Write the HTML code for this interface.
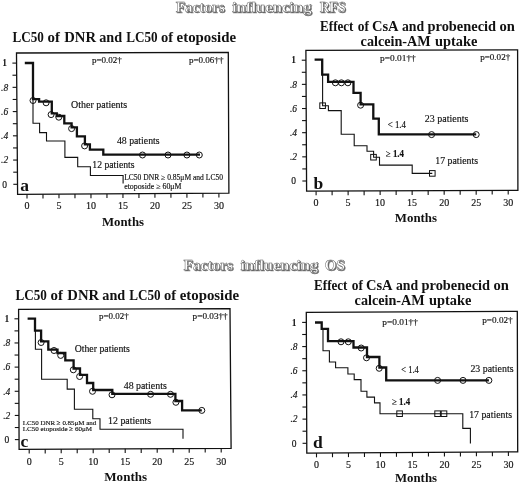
<!DOCTYPE html>
<html><head><meta charset="utf-8"><title>Factors influencing RFS and OS</title>
<style>html,body{margin:0;padding:0;background:#fff;}body{width:520px;height:483px;overflow:hidden;}svg{display:block;filter:blur(0.3px);font-family:"Liberation Serif",serif;}</style>
</head><body>
<svg width="520" height="483" viewBox="0 0 520 483">
<rect width="520" height="483" fill="#fff"/>
<text x="176.7" y="12.8" font-size="14" text-anchor="start" font-weight="bold" textLength="49.0" lengthAdjust="spacingAndGlyphs" fill="#666" stroke="#888" stroke-width="0.4">Factors</text>
<text x="175.7" y="11.8" font-size="14" text-anchor="start" font-weight="bold" textLength="49.0" lengthAdjust="spacingAndGlyphs" fill="#ffffff" stroke="#555" stroke-width="0.4">Factors</text>
<text x="233.0" y="12.8" font-size="14" text-anchor="start" font-weight="bold" textLength="79.5" lengthAdjust="spacingAndGlyphs" fill="#666" stroke="#888" stroke-width="0.4">influencing</text>
<text x="232.0" y="11.8" font-size="14" text-anchor="start" font-weight="bold" textLength="79.5" lengthAdjust="spacingAndGlyphs" fill="#ffffff" stroke="#555" stroke-width="0.4">influencing</text>
<text x="320.7" y="12.8" font-size="14" text-anchor="start" font-weight="bold" textLength="26.0" lengthAdjust="spacingAndGlyphs" fill="#666" stroke="#888" stroke-width="0.4">RFS</text>
<text x="319.7" y="11.8" font-size="14" text-anchor="start" font-weight="bold" textLength="26.0" lengthAdjust="spacingAndGlyphs" fill="#ffffff" stroke="#555" stroke-width="0.4">RFS</text>
<text x="184.5" y="271.3" font-size="14" text-anchor="start" font-weight="bold" textLength="49.5" lengthAdjust="spacingAndGlyphs" fill="#666" stroke="#888" stroke-width="0.4">Factors</text>
<text x="183.5" y="270.3" font-size="14" text-anchor="start" font-weight="bold" textLength="49.5" lengthAdjust="spacingAndGlyphs" fill="#ffffff" stroke="#555" stroke-width="0.4">Factors</text>
<text x="241.6" y="271.3" font-size="14" text-anchor="start" font-weight="bold" textLength="77.5" lengthAdjust="spacingAndGlyphs" fill="#666" stroke="#888" stroke-width="0.4">influencing</text>
<text x="240.6" y="270.3" font-size="14" text-anchor="start" font-weight="bold" textLength="77.5" lengthAdjust="spacingAndGlyphs" fill="#ffffff" stroke="#555" stroke-width="0.4">influencing</text>
<text x="325.7" y="271.3" font-size="14" text-anchor="start" font-weight="bold" textLength="20.2" lengthAdjust="spacingAndGlyphs" fill="#666" stroke="#888" stroke-width="0.4">OS</text>
<text x="324.7" y="270.3" font-size="14" text-anchor="start" font-weight="bold" textLength="20.2" lengthAdjust="spacingAndGlyphs" fill="#ffffff" stroke="#555" stroke-width="0.4">OS</text>
<text x="12.5" y="41.8" font-size="14" text-anchor="start" font-weight="bold" textLength="31.3" lengthAdjust="spacingAndGlyphs" fill="#111" >LC50</text>
<text x="47.5" y="41.8" font-size="14" text-anchor="start" font-weight="bold" textLength="12.4" lengthAdjust="spacingAndGlyphs" fill="#111" >of</text>
<text x="64.2" y="41.8" font-size="14" text-anchor="start" font-weight="bold" textLength="31.8" lengthAdjust="spacingAndGlyphs" fill="#111" >DNR</text>
<text x="99.2" y="41.8" font-size="14" text-anchor="start" font-weight="bold" textLength="22.9" lengthAdjust="spacingAndGlyphs" fill="#111" >and</text>
<text x="126.2" y="41.8" font-size="14" text-anchor="start" font-weight="bold" textLength="31.4" lengthAdjust="spacingAndGlyphs" fill="#111" >LC50</text>
<text x="160.9" y="41.8" font-size="14" text-anchor="start" font-weight="bold" textLength="12.1" lengthAdjust="spacingAndGlyphs" fill="#111" >of</text>
<text x="176.6" y="41.8" font-size="14" text-anchor="start" font-weight="bold" textLength="59.4" lengthAdjust="spacingAndGlyphs" fill="#111" >etoposide</text>
<text x="15.6" y="299.6" font-size="14" text-anchor="start" font-weight="bold" textLength="31.3" lengthAdjust="spacingAndGlyphs" fill="#111" >LC50</text>
<text x="50.6" y="299.6" font-size="14" text-anchor="start" font-weight="bold" textLength="12.4" lengthAdjust="spacingAndGlyphs" fill="#111" >of</text>
<text x="67.3" y="299.6" font-size="14" text-anchor="start" font-weight="bold" textLength="31.8" lengthAdjust="spacingAndGlyphs" fill="#111" >DNR</text>
<text x="102.3" y="299.6" font-size="14" text-anchor="start" font-weight="bold" textLength="22.9" lengthAdjust="spacingAndGlyphs" fill="#111" >and</text>
<text x="129.3" y="299.6" font-size="14" text-anchor="start" font-weight="bold" textLength="31.4" lengthAdjust="spacingAndGlyphs" fill="#111" >LC50</text>
<text x="164.0" y="299.6" font-size="14" text-anchor="start" font-weight="bold" textLength="12.1" lengthAdjust="spacingAndGlyphs" fill="#111" >of</text>
<text x="179.7" y="299.6" font-size="14" text-anchor="start" font-weight="bold" textLength="59.4" lengthAdjust="spacingAndGlyphs" fill="#111" >etoposide</text>
<text x="320.1" y="30.5" font-size="14" text-anchor="start" font-weight="bold" textLength="33.3" lengthAdjust="spacingAndGlyphs" fill="#111" >Effect</text>
<text x="357.7" y="30.5" font-size="14" text-anchor="start" font-weight="bold" textLength="11.2" lengthAdjust="spacingAndGlyphs" fill="#111" >of</text>
<text x="372.0" y="30.5" font-size="14" text-anchor="start" font-weight="bold" textLength="26.6" lengthAdjust="spacingAndGlyphs" fill="#111" >CsA</text>
<text x="401.9" y="30.5" font-size="14" text-anchor="start" font-weight="bold" textLength="22.2" lengthAdjust="spacingAndGlyphs" fill="#111" >and</text>
<text x="427.5" y="30.5" font-size="14" text-anchor="start" font-weight="bold" textLength="68.6" lengthAdjust="spacingAndGlyphs" fill="#111" >probenecid</text>
<text x="499.5" y="30.5" font-size="14" text-anchor="start" font-weight="bold" textLength="15.4" lengthAdjust="spacingAndGlyphs" fill="#111" >on</text>
<text x="360.6" y="45.6" font-size="14" text-anchor="start" font-weight="bold" textLength="70.1" lengthAdjust="spacingAndGlyphs" fill="#111" >calcein-AM</text>
<text x="435.0" y="45.6" font-size="14" text-anchor="start" font-weight="bold" textLength="42.4" lengthAdjust="spacingAndGlyphs" fill="#111" >uptake</text>
<text x="314.1" y="289.6" font-size="14" text-anchor="start" font-weight="bold" textLength="33.3" lengthAdjust="spacingAndGlyphs" fill="#111" >Effect</text>
<text x="351.7" y="289.6" font-size="14" text-anchor="start" font-weight="bold" textLength="11.2" lengthAdjust="spacingAndGlyphs" fill="#111" >of</text>
<text x="366.0" y="289.6" font-size="14" text-anchor="start" font-weight="bold" textLength="26.6" lengthAdjust="spacingAndGlyphs" fill="#111" >CsA</text>
<text x="395.9" y="289.6" font-size="14" text-anchor="start" font-weight="bold" textLength="22.2" lengthAdjust="spacingAndGlyphs" fill="#111" >and</text>
<text x="421.5" y="289.6" font-size="14" text-anchor="start" font-weight="bold" textLength="68.6" lengthAdjust="spacingAndGlyphs" fill="#111" >probenecid</text>
<text x="493.5" y="289.6" font-size="14" text-anchor="start" font-weight="bold" textLength="15.4" lengthAdjust="spacingAndGlyphs" fill="#111" >on</text>
<text x="354.6" y="304.9" font-size="14" text-anchor="start" font-weight="bold" textLength="70.1" lengthAdjust="spacingAndGlyphs" fill="#111" >calcein-AM</text>
<text x="429.0" y="304.9" font-size="14" text-anchor="start" font-weight="bold" textLength="42.4" lengthAdjust="spacingAndGlyphs" fill="#111" >uptake</text>
<path d="M16.5,53.0 L228.3,52.4 L228.9,193.2 L17.6,194.4 Z" fill="none" stroke="#111" stroke-width="1.3" stroke-linejoin="miter"/>
<line x1="13.32" y1="184.30" x2="17.52" y2="184.30" stroke="#111" stroke-width="1.1"/>
<line x1="13.23" y1="172.18" x2="17.43" y2="172.18" stroke="#111" stroke-width="1.1"/>
<line x1="13.13" y1="160.06" x2="17.33" y2="160.06" stroke="#111" stroke-width="1.1"/>
<line x1="13.04" y1="147.94" x2="17.24" y2="147.94" stroke="#111" stroke-width="1.1"/>
<line x1="12.94" y1="135.82" x2="17.14" y2="135.82" stroke="#111" stroke-width="1.1"/>
<line x1="12.85" y1="123.70" x2="17.05" y2="123.70" stroke="#111" stroke-width="1.1"/>
<line x1="12.76" y1="111.58" x2="16.96" y2="111.58" stroke="#111" stroke-width="1.1"/>
<line x1="12.66" y1="99.46" x2="16.86" y2="99.46" stroke="#111" stroke-width="1.1"/>
<line x1="12.57" y1="87.34" x2="16.77" y2="87.34" stroke="#111" stroke-width="1.1"/>
<line x1="12.47" y1="75.22" x2="16.67" y2="75.22" stroke="#111" stroke-width="1.1"/>
<line x1="12.38" y1="63.10" x2="16.58" y2="63.10" stroke="#111" stroke-width="1.1"/>
<text x="4.6" y="187.5" font-size="9.5" text-anchor="middle" fill="#111"  stroke="#111" stroke-width="0.15">0</text>
<text x="4.6" y="163.3" font-size="9.5" text-anchor="middle" fill="#111" font-style="italic" stroke="#111" stroke-width="0.15">.2</text>
<text x="4.6" y="139.0" font-size="9.5" text-anchor="middle" fill="#111" font-style="italic" stroke="#111" stroke-width="0.15">.4</text>
<text x="4.6" y="114.8" font-size="9.5" text-anchor="middle" fill="#111" font-style="italic" stroke="#111" stroke-width="0.15">.6</text>
<text x="4.6" y="90.5" font-size="9.5" text-anchor="middle" fill="#111" font-style="italic" stroke="#111" stroke-width="0.15">.8</text>
<text x="4.6" y="66.3" font-size="9.5" text-anchor="middle" font-weight="bold" fill="#111" >1</text>
<line x1="27.00" y1="194.35" x2="27.00" y2="198.55" stroke="#111" stroke-width="1.1"/>
<line x1="42.99" y1="194.26" x2="42.99" y2="198.46" stroke="#111" stroke-width="1.1"/>
<line x1="58.98" y1="194.16" x2="58.98" y2="198.36" stroke="#111" stroke-width="1.1"/>
<line x1="74.97" y1="194.07" x2="74.97" y2="198.27" stroke="#111" stroke-width="1.1"/>
<line x1="90.97" y1="193.98" x2="90.97" y2="198.18" stroke="#111" stroke-width="1.1"/>
<line x1="106.96" y1="193.89" x2="106.96" y2="198.09" stroke="#111" stroke-width="1.1"/>
<line x1="122.95" y1="193.80" x2="122.95" y2="198.00" stroke="#111" stroke-width="1.1"/>
<line x1="138.94" y1="193.71" x2="138.94" y2="197.91" stroke="#111" stroke-width="1.1"/>
<line x1="154.93" y1="193.62" x2="154.93" y2="197.82" stroke="#111" stroke-width="1.1"/>
<line x1="170.93" y1="193.53" x2="170.93" y2="197.73" stroke="#111" stroke-width="1.1"/>
<line x1="186.92" y1="193.44" x2="186.92" y2="197.64" stroke="#111" stroke-width="1.1"/>
<line x1="202.91" y1="193.35" x2="202.91" y2="197.55" stroke="#111" stroke-width="1.1"/>
<line x1="218.90" y1="193.26" x2="218.90" y2="197.46" stroke="#111" stroke-width="1.1"/>
<text x="27.0" y="208.5" font-size="10" text-anchor="middle" fill="#111"  stroke="#111" stroke-width="0.15">0</text>
<text x="59.0" y="208.5" font-size="10" text-anchor="middle" fill="#111"  stroke="#111" stroke-width="0.15">5</text>
<text x="91.0" y="208.5" font-size="10" text-anchor="middle" fill="#111"  stroke="#111" stroke-width="0.15">10</text>
<text x="123.0" y="208.5" font-size="10" text-anchor="middle" fill="#111"  stroke="#111" stroke-width="0.15">15</text>
<text x="154.9" y="208.5" font-size="10" text-anchor="middle" fill="#111"  stroke="#111" stroke-width="0.15">20</text>
<text x="186.9" y="208.5" font-size="10" text-anchor="middle" fill="#111"  stroke="#111" stroke-width="0.15">25</text>
<text x="218.9" y="208.5" font-size="10" text-anchor="middle" fill="#111"  stroke="#111" stroke-width="0.15">30</text>
<path d="M33,99.5 V123.3 H39.6 V132.6 H46.5 V141 H64.9 V157.4 H77.7 V166.7 H90.4 V175.5 H123.1 V183.6" fill="none" stroke="#111" stroke-width="1.1"/>
<path d="M24.8,63 H33 V99.2 H39.1 V101.6 H51.8 V113.3 H56.8 V116 H64.3 V123.3 H71.6 V127.3 H76.9 V136.3 H84.9 V144.4 H89.9 V149.7 H103.3 V154.6 H200" fill="none" stroke="#111" stroke-width="2.3"/>
<circle cx="33" cy="100.5" r="3" fill="none" stroke="#111" stroke-width="1"/>
<circle cx="46.1" cy="102.8" r="3" fill="none" stroke="#111" stroke-width="1"/>
<circle cx="51.1" cy="114.6" r="3" fill="none" stroke="#111" stroke-width="1"/>
<circle cx="58.8" cy="117.2" r="3" fill="none" stroke="#111" stroke-width="1"/>
<circle cx="71.6" cy="128.6" r="3" fill="none" stroke="#111" stroke-width="1"/>
<circle cx="84.6" cy="145.9" r="3" fill="none" stroke="#111" stroke-width="1"/>
<circle cx="142.5" cy="155" r="3" fill="none" stroke="#111" stroke-width="1"/>
<circle cx="168" cy="155" r="3" fill="none" stroke="#111" stroke-width="1"/>
<circle cx="186.9" cy="155" r="3" fill="none" stroke="#111" stroke-width="1"/>
<circle cx="199.3" cy="155" r="3" fill="none" stroke="#111" stroke-width="1"/>
<path d="M305.9,50.4 L517.6,49.8 L517.9,190.3 L306.6,191.2 Z" fill="none" stroke="#111" stroke-width="1.3" stroke-linejoin="miter"/>
<line x1="302.35" y1="181.00" x2="306.55" y2="181.00" stroke="#111" stroke-width="1.1"/>
<line x1="302.29" y1="168.92" x2="306.49" y2="168.92" stroke="#111" stroke-width="1.1"/>
<line x1="302.23" y1="156.84" x2="306.43" y2="156.84" stroke="#111" stroke-width="1.1"/>
<line x1="302.17" y1="144.76" x2="306.37" y2="144.76" stroke="#111" stroke-width="1.1"/>
<line x1="302.11" y1="132.68" x2="306.31" y2="132.68" stroke="#111" stroke-width="1.1"/>
<line x1="302.05" y1="120.60" x2="306.25" y2="120.60" stroke="#111" stroke-width="1.1"/>
<line x1="301.99" y1="108.52" x2="306.19" y2="108.52" stroke="#111" stroke-width="1.1"/>
<line x1="301.93" y1="96.44" x2="306.13" y2="96.44" stroke="#111" stroke-width="1.1"/>
<line x1="301.87" y1="84.36" x2="306.07" y2="84.36" stroke="#111" stroke-width="1.1"/>
<line x1="301.81" y1="72.28" x2="306.01" y2="72.28" stroke="#111" stroke-width="1.1"/>
<line x1="301.75" y1="60.20" x2="305.95" y2="60.20" stroke="#111" stroke-width="1.1"/>
<text x="293.5" y="184.2" font-size="9.5" text-anchor="middle" fill="#111"  stroke="#111" stroke-width="0.15">0</text>
<text x="293.5" y="160.0" font-size="9.5" text-anchor="middle" fill="#111" font-style="italic" stroke="#111" stroke-width="0.15">.2</text>
<text x="293.5" y="135.9" font-size="9.5" text-anchor="middle" fill="#111" font-style="italic" stroke="#111" stroke-width="0.15">.4</text>
<text x="293.5" y="111.7" font-size="9.5" text-anchor="middle" fill="#111" font-style="italic" stroke="#111" stroke-width="0.15">.6</text>
<text x="293.5" y="87.6" font-size="9.5" text-anchor="middle" fill="#111" font-style="italic" stroke="#111" stroke-width="0.15">.8</text>
<text x="293.5" y="63.4" font-size="9.5" text-anchor="middle" font-weight="bold" fill="#111" >1</text>
<line x1="316.10" y1="191.16" x2="316.10" y2="195.36" stroke="#111" stroke-width="1.1"/>
<line x1="332.11" y1="191.09" x2="332.11" y2="195.29" stroke="#111" stroke-width="1.1"/>
<line x1="348.12" y1="191.02" x2="348.12" y2="195.22" stroke="#111" stroke-width="1.1"/>
<line x1="364.12" y1="190.95" x2="364.12" y2="195.15" stroke="#111" stroke-width="1.1"/>
<line x1="380.13" y1="190.89" x2="380.13" y2="195.09" stroke="#111" stroke-width="1.1"/>
<line x1="396.14" y1="190.82" x2="396.14" y2="195.02" stroke="#111" stroke-width="1.1"/>
<line x1="412.15" y1="190.75" x2="412.15" y2="194.95" stroke="#111" stroke-width="1.1"/>
<line x1="428.16" y1="190.68" x2="428.16" y2="194.88" stroke="#111" stroke-width="1.1"/>
<line x1="444.17" y1="190.61" x2="444.17" y2="194.81" stroke="#111" stroke-width="1.1"/>
<line x1="460.17" y1="190.55" x2="460.17" y2="194.75" stroke="#111" stroke-width="1.1"/>
<line x1="476.18" y1="190.48" x2="476.18" y2="194.68" stroke="#111" stroke-width="1.1"/>
<line x1="492.19" y1="190.41" x2="492.19" y2="194.61" stroke="#111" stroke-width="1.1"/>
<line x1="508.20" y1="190.34" x2="508.20" y2="194.54" stroke="#111" stroke-width="1.1"/>
<text x="316.1" y="205.6" font-size="10" text-anchor="middle" fill="#111"  stroke="#111" stroke-width="0.15">0</text>
<text x="348.1" y="205.6" font-size="10" text-anchor="middle" fill="#111"  stroke="#111" stroke-width="0.15">5</text>
<text x="380.1" y="205.6" font-size="10" text-anchor="middle" fill="#111"  stroke="#111" stroke-width="0.15">10</text>
<text x="412.1" y="205.6" font-size="10" text-anchor="middle" fill="#111"  stroke="#111" stroke-width="0.15">15</text>
<text x="444.2" y="205.6" font-size="10" text-anchor="middle" fill="#111"  stroke="#111" stroke-width="0.15">20</text>
<text x="476.2" y="205.6" font-size="10" text-anchor="middle" fill="#111"  stroke="#111" stroke-width="0.15">25</text>
<text x="508.2" y="205.6" font-size="10" text-anchor="middle" fill="#111"  stroke="#111" stroke-width="0.15">30</text>
<path d="M322.6,74.7 V105.7 H328.4 V110.6 H341.2 V134.2 H354.2 V145.8 H367 V151.3 H373.6 V157.2 H379.5 V165.1 H412.2 V173.4 H432.3" fill="none" stroke="#111" stroke-width="1.1"/>
<path d="M314.6,59.6 H322.2 V74.7 H328.1 V81.9 H353.5 V92.9 H360.6 V104.4 H373.3 V118.6 H378.8 V134.4 H476.2" fill="none" stroke="#111" stroke-width="2.3"/>
<circle cx="335.4" cy="82.8" r="3" fill="none" stroke="#111" stroke-width="1"/>
<circle cx="341.4" cy="82.8" r="3" fill="none" stroke="#111" stroke-width="1"/>
<circle cx="347.9" cy="82.8" r="3" fill="none" stroke="#111" stroke-width="1"/>
<circle cx="360.6" cy="105.2" r="3" fill="none" stroke="#111" stroke-width="1"/>
<circle cx="431.6" cy="134.6" r="3" fill="none" stroke="#111" stroke-width="1"/>
<circle cx="476.2" cy="134.6" r="3" fill="none" stroke="#111" stroke-width="1"/>
<rect x="319.8" y="102.9" width="5.6" height="5.6" fill="none" stroke="#111" stroke-width="1"/>
<rect x="370.7" y="154.4" width="5.6" height="5.6" fill="none" stroke="#111" stroke-width="1"/>
<rect x="429.5" y="170.6" width="5.6" height="5.6" fill="none" stroke="#111" stroke-width="1"/>
<path d="M18.6,309.4 L230.0,308.7 L231.1,448.3 L19.1,449.3 Z" fill="none" stroke="#111" stroke-width="1.3" stroke-linejoin="miter"/>
<line x1="14.87" y1="439.60" x2="19.07" y2="439.60" stroke="#111" stroke-width="1.1"/>
<line x1="14.82" y1="427.52" x2="19.02" y2="427.52" stroke="#111" stroke-width="1.1"/>
<line x1="14.78" y1="415.44" x2="18.98" y2="415.44" stroke="#111" stroke-width="1.1"/>
<line x1="14.74" y1="403.36" x2="18.94" y2="403.36" stroke="#111" stroke-width="1.1"/>
<line x1="14.69" y1="391.28" x2="18.89" y2="391.28" stroke="#111" stroke-width="1.1"/>
<line x1="14.65" y1="379.20" x2="18.85" y2="379.20" stroke="#111" stroke-width="1.1"/>
<line x1="14.61" y1="367.12" x2="18.81" y2="367.12" stroke="#111" stroke-width="1.1"/>
<line x1="14.56" y1="355.04" x2="18.76" y2="355.04" stroke="#111" stroke-width="1.1"/>
<line x1="14.52" y1="342.96" x2="18.72" y2="342.96" stroke="#111" stroke-width="1.1"/>
<line x1="14.48" y1="330.88" x2="18.68" y2="330.88" stroke="#111" stroke-width="1.1"/>
<line x1="14.43" y1="318.80" x2="18.63" y2="318.80" stroke="#111" stroke-width="1.1"/>
<text x="6.8" y="442.8" font-size="9.5" text-anchor="middle" fill="#111"  stroke="#111" stroke-width="0.15">0</text>
<text x="6.8" y="418.6" font-size="9.5" text-anchor="middle" fill="#111" font-style="italic" stroke="#111" stroke-width="0.15">.2</text>
<text x="6.8" y="394.5" font-size="9.5" text-anchor="middle" fill="#111" font-style="italic" stroke="#111" stroke-width="0.15">.4</text>
<text x="6.8" y="370.3" font-size="9.5" text-anchor="middle" fill="#111" font-style="italic" stroke="#111" stroke-width="0.15">.6</text>
<text x="6.8" y="346.2" font-size="9.5" text-anchor="middle" fill="#111" font-style="italic" stroke="#111" stroke-width="0.15">.8</text>
<text x="6.8" y="322.0" font-size="9.5" text-anchor="middle" font-weight="bold" fill="#111" >1</text>
<line x1="29.20" y1="449.25" x2="29.20" y2="453.45" stroke="#111" stroke-width="1.1"/>
<line x1="45.20" y1="449.18" x2="45.20" y2="453.38" stroke="#111" stroke-width="1.1"/>
<line x1="61.20" y1="449.10" x2="61.20" y2="453.30" stroke="#111" stroke-width="1.1"/>
<line x1="77.20" y1="449.03" x2="77.20" y2="453.23" stroke="#111" stroke-width="1.1"/>
<line x1="93.20" y1="448.95" x2="93.20" y2="453.15" stroke="#111" stroke-width="1.1"/>
<line x1="109.20" y1="448.88" x2="109.20" y2="453.07" stroke="#111" stroke-width="1.1"/>
<line x1="125.20" y1="448.80" x2="125.20" y2="453.00" stroke="#111" stroke-width="1.1"/>
<line x1="141.20" y1="448.72" x2="141.20" y2="452.92" stroke="#111" stroke-width="1.1"/>
<line x1="157.20" y1="448.65" x2="157.20" y2="452.85" stroke="#111" stroke-width="1.1"/>
<line x1="173.20" y1="448.57" x2="173.20" y2="452.77" stroke="#111" stroke-width="1.1"/>
<line x1="189.20" y1="448.50" x2="189.20" y2="452.70" stroke="#111" stroke-width="1.1"/>
<line x1="205.20" y1="448.42" x2="205.20" y2="452.62" stroke="#111" stroke-width="1.1"/>
<line x1="221.20" y1="448.35" x2="221.20" y2="452.55" stroke="#111" stroke-width="1.1"/>
<text x="29.2" y="464.5" font-size="10" text-anchor="middle" fill="#111"  stroke="#111" stroke-width="0.15">0</text>
<text x="61.2" y="464.5" font-size="10" text-anchor="middle" fill="#111"  stroke="#111" stroke-width="0.15">5</text>
<text x="93.2" y="464.5" font-size="10" text-anchor="middle" fill="#111"  stroke="#111" stroke-width="0.15">10</text>
<text x="125.2" y="464.5" font-size="10" text-anchor="middle" fill="#111"  stroke="#111" stroke-width="0.15">15</text>
<text x="157.2" y="464.5" font-size="10" text-anchor="middle" fill="#111"  stroke="#111" stroke-width="0.15">20</text>
<text x="189.2" y="464.5" font-size="10" text-anchor="middle" fill="#111"  stroke="#111" stroke-width="0.15">25</text>
<text x="221.2" y="464.5" font-size="10" text-anchor="middle" fill="#111"  stroke="#111" stroke-width="0.15">30</text>
<path d="M35.4,330.6 V349.2 H41.6 V379.3 H67.2 V389.1 H74.4 V409.2 H92.8 V418.7 H100 V429.3 H183 V438.8" fill="none" stroke="#111" stroke-width="1.1"/>
<path d="M27.6,318.6 H35 V330.6 H41.1 V341.4 H48.3 V349.7 H57.5 V353 H65.3 V360.4 H73.6 V368.5 H80 V374.8 H87 V383 H93.2 V390 H112.3 V393.8 H175.4 V401 H182.1 V410.4 H201.8" fill="none" stroke="#111" stroke-width="2.3"/>
<circle cx="41.1" cy="342.5" r="3" fill="none" stroke="#111" stroke-width="1"/>
<circle cx="54" cy="350.5" r="3" fill="none" stroke="#111" stroke-width="1"/>
<circle cx="60.7" cy="355.4" r="3" fill="none" stroke="#111" stroke-width="1"/>
<circle cx="73.3" cy="369.8" r="3" fill="none" stroke="#111" stroke-width="1"/>
<circle cx="79.6" cy="376.5" r="3" fill="none" stroke="#111" stroke-width="1"/>
<circle cx="92.5" cy="391.3" r="3" fill="none" stroke="#111" stroke-width="1"/>
<circle cx="112" cy="394.8" r="3" fill="none" stroke="#111" stroke-width="1"/>
<circle cx="150.6" cy="394.3" r="3" fill="none" stroke="#111" stroke-width="1"/>
<circle cx="170.5" cy="394.3" r="3" fill="none" stroke="#111" stroke-width="1"/>
<circle cx="175.9" cy="402.3" r="3" fill="none" stroke="#111" stroke-width="1"/>
<circle cx="201.8" cy="410.4" r="3" fill="none" stroke="#111" stroke-width="1"/>
<path d="M306.3,312.4 L517.3,311.3 L517.7,451.8 L306.8,453.2 Z" fill="none" stroke="#111" stroke-width="1.3" stroke-linejoin="miter"/>
<line x1="302.56" y1="443.30" x2="306.76" y2="443.30" stroke="#111" stroke-width="1.1"/>
<line x1="302.52" y1="431.21" x2="306.72" y2="431.21" stroke="#111" stroke-width="1.1"/>
<line x1="302.48" y1="419.12" x2="306.68" y2="419.12" stroke="#111" stroke-width="1.1"/>
<line x1="302.44" y1="407.03" x2="306.64" y2="407.03" stroke="#111" stroke-width="1.1"/>
<line x1="302.39" y1="394.94" x2="306.59" y2="394.94" stroke="#111" stroke-width="1.1"/>
<line x1="302.35" y1="382.85" x2="306.55" y2="382.85" stroke="#111" stroke-width="1.1"/>
<line x1="302.31" y1="370.76" x2="306.51" y2="370.76" stroke="#111" stroke-width="1.1"/>
<line x1="302.26" y1="358.67" x2="306.46" y2="358.67" stroke="#111" stroke-width="1.1"/>
<line x1="302.22" y1="346.58" x2="306.42" y2="346.58" stroke="#111" stroke-width="1.1"/>
<line x1="302.18" y1="334.49" x2="306.38" y2="334.49" stroke="#111" stroke-width="1.1"/>
<line x1="302.14" y1="322.40" x2="306.34" y2="322.40" stroke="#111" stroke-width="1.1"/>
<text x="294.0" y="446.5" font-size="9.5" text-anchor="middle" fill="#111"  stroke="#111" stroke-width="0.15">0</text>
<text x="294.0" y="422.3" font-size="9.5" text-anchor="middle" fill="#111" font-style="italic" stroke="#111" stroke-width="0.15">.2</text>
<text x="294.0" y="398.1" font-size="9.5" text-anchor="middle" fill="#111" font-style="italic" stroke="#111" stroke-width="0.15">.4</text>
<text x="294.0" y="374.0" font-size="9.5" text-anchor="middle" fill="#111" font-style="italic" stroke="#111" stroke-width="0.15">.6</text>
<text x="294.0" y="349.8" font-size="9.5" text-anchor="middle" fill="#111" font-style="italic" stroke="#111" stroke-width="0.15">.8</text>
<text x="294.0" y="325.6" font-size="9.5" text-anchor="middle" font-weight="bold" fill="#111" >1</text>
<line x1="316.50" y1="453.14" x2="316.50" y2="457.34" stroke="#111" stroke-width="1.1"/>
<line x1="332.49" y1="453.03" x2="332.49" y2="457.23" stroke="#111" stroke-width="1.1"/>
<line x1="348.48" y1="452.92" x2="348.48" y2="457.12" stroke="#111" stroke-width="1.1"/>
<line x1="364.48" y1="452.82" x2="364.48" y2="457.02" stroke="#111" stroke-width="1.1"/>
<line x1="380.47" y1="452.71" x2="380.47" y2="456.91" stroke="#111" stroke-width="1.1"/>
<line x1="396.46" y1="452.60" x2="396.46" y2="456.80" stroke="#111" stroke-width="1.1"/>
<line x1="412.45" y1="452.50" x2="412.45" y2="456.70" stroke="#111" stroke-width="1.1"/>
<line x1="428.44" y1="452.39" x2="428.44" y2="456.59" stroke="#111" stroke-width="1.1"/>
<line x1="444.43" y1="452.29" x2="444.43" y2="456.49" stroke="#111" stroke-width="1.1"/>
<line x1="460.42" y1="452.18" x2="460.42" y2="456.38" stroke="#111" stroke-width="1.1"/>
<line x1="476.42" y1="452.07" x2="476.42" y2="456.27" stroke="#111" stroke-width="1.1"/>
<line x1="492.41" y1="451.97" x2="492.41" y2="456.17" stroke="#111" stroke-width="1.1"/>
<line x1="508.40" y1="451.86" x2="508.40" y2="456.06" stroke="#111" stroke-width="1.1"/>
<text x="316.5" y="467.9" font-size="10" text-anchor="middle" fill="#111"  stroke="#111" stroke-width="0.15">0</text>
<text x="348.5" y="467.9" font-size="10" text-anchor="middle" fill="#111"  stroke="#111" stroke-width="0.15">5</text>
<text x="380.5" y="467.9" font-size="10" text-anchor="middle" fill="#111"  stroke="#111" stroke-width="0.15">10</text>
<text x="412.4" y="467.9" font-size="10" text-anchor="middle" fill="#111"  stroke="#111" stroke-width="0.15">15</text>
<text x="444.4" y="467.9" font-size="10" text-anchor="middle" fill="#111"  stroke="#111" stroke-width="0.15">20</text>
<text x="476.4" y="467.9" font-size="10" text-anchor="middle" fill="#111"  stroke="#111" stroke-width="0.15">25</text>
<text x="508.4" y="467.9" font-size="10" text-anchor="middle" fill="#111"  stroke="#111" stroke-width="0.15">30</text>
<path d="M323,328.8 V350.8 H329.4 V362 H335.6 V367.7 H347.9 V374 H354.2 V379.6 H361 V391.3 H366.9 V397.1 H374.5 V402.9 H380 V413.7 H462.8 V428.4 H470.4 V443.4" fill="none" stroke="#111" stroke-width="1.1"/>
<path d="M315,322.5 H321.7 V328.8 H328 V341.2 H353.5 V347.5 H367 V357 H379.4 V367.5 H386.2 V380.3 H488.9" fill="none" stroke="#111" stroke-width="2.3"/>
<circle cx="341" cy="341.8" r="3" fill="none" stroke="#111" stroke-width="1"/>
<circle cx="348.3" cy="341.8" r="3" fill="none" stroke="#111" stroke-width="1"/>
<circle cx="361.2" cy="348" r="3" fill="none" stroke="#111" stroke-width="1"/>
<circle cx="366.5" cy="357.8" r="3" fill="none" stroke="#111" stroke-width="1"/>
<circle cx="379.2" cy="368.3" r="3" fill="none" stroke="#111" stroke-width="1"/>
<circle cx="437.6" cy="380.4" r="3" fill="none" stroke="#111" stroke-width="1"/>
<circle cx="463" cy="380.4" r="3" fill="none" stroke="#111" stroke-width="1"/>
<circle cx="488.9" cy="380.4" r="3" fill="none" stroke="#111" stroke-width="1"/>
<rect x="396.8" y="410.9" width="5.6" height="5.6" fill="none" stroke="#111" stroke-width="1"/>
<rect x="434.8" y="410.9" width="5.6" height="5.6" fill="none" stroke="#111" stroke-width="1"/>
<rect x="441.2" y="410.9" width="5.6" height="5.6" fill="none" stroke="#111" stroke-width="1"/>
<text x="91.9" y="62.9" font-size="8.6" text-anchor="start" textLength="29.9" lengthAdjust="spacingAndGlyphs" fill="#111"  stroke="#111" stroke-width="0.15">p=0.02†</text>
<text x="189.0" y="63.4" font-size="8.6" text-anchor="start" textLength="34.4" lengthAdjust="spacingAndGlyphs" fill="#111"  stroke="#111" stroke-width="0.15">p=0.06††</text>
<text x="71.1" y="108.1" font-size="9.6" text-anchor="start" textLength="56.1" lengthAdjust="spacingAndGlyphs" fill="#111"  stroke="#111" stroke-width="0.15">Other patients</text>
<text x="116.9" y="143.8" font-size="9.6" text-anchor="start" textLength="42.7" lengthAdjust="spacingAndGlyphs" fill="#111"  stroke="#111" stroke-width="0.15">48 patients</text>
<text x="92.3" y="167.5" font-size="9.6" text-anchor="start" textLength="42.3" lengthAdjust="spacingAndGlyphs" fill="#111"  stroke="#111" stroke-width="0.15">12 patients</text>
<text x="124.2" y="179.6" font-size="7.6" text-anchor="start" textLength="98.8" lengthAdjust="spacingAndGlyphs" fill="#111"  stroke="#111" stroke-width="0.15">LC50 DNR ≥ 0.85μM and LC50</text>
<text x="124.2" y="188.8" font-size="7.6" text-anchor="start" textLength="57.3" lengthAdjust="spacingAndGlyphs" fill="#111"  stroke="#111" stroke-width="0.15">etoposide ≥ 60μM</text>
<text x="20.2" y="190.6" font-size="17.5" text-anchor="start" font-weight="bold" fill="#111" >a</text>
<text x="102.0" y="225.5" font-size="12.8" text-anchor="start" font-weight="bold" textLength="42.0" lengthAdjust="spacingAndGlyphs" fill="#111" >Months</text>
<text x="380.0" y="60.6" font-size="8.6" text-anchor="start" textLength="35.8" lengthAdjust="spacingAndGlyphs" fill="#111"  stroke="#111" stroke-width="0.15">p=0.01††</text>
<text x="480.2" y="59.8" font-size="8.6" text-anchor="start" textLength="30.0" lengthAdjust="spacingAndGlyphs" fill="#111"  stroke="#111" stroke-width="0.15">p=0.02†</text>
<text x="387.7" y="128.2" font-size="10" text-anchor="start" textLength="18.3" lengthAdjust="spacingAndGlyphs" fill="#111"  stroke="#111" stroke-width="0.15">&lt; 1.4</text>
<text x="385.8" y="157.0" font-size="10" text-anchor="start" textLength="18.2" lengthAdjust="spacingAndGlyphs" fill="#111"  stroke="#111" stroke-width="0.15">≥ <tspan font-weight='bold'>1.4</tspan></text>
<text x="424.8" y="121.8" font-size="9.6" text-anchor="start" textLength="43.6" lengthAdjust="spacingAndGlyphs" fill="#111"  stroke="#111" stroke-width="0.15">23 patients</text>
<text x="435.3" y="164.4" font-size="9.6" text-anchor="start" textLength="42.7" lengthAdjust="spacingAndGlyphs" fill="#111"  stroke="#111" stroke-width="0.15">17 patients</text>
<text x="313.5" y="188.8" font-size="17.5" text-anchor="start" font-weight="bold" fill="#111" >b</text>
<text x="394.8" y="221.7" font-size="12.8" text-anchor="start" font-weight="bold" textLength="42.2" lengthAdjust="spacingAndGlyphs" fill="#111" >Months</text>
<text x="99.0" y="319.0" font-size="8.6" text-anchor="start" textLength="29.6" lengthAdjust="spacingAndGlyphs" fill="#111"  stroke="#111" stroke-width="0.15">p=0.02†</text>
<text x="192.6" y="318.8" font-size="8.6" text-anchor="start" textLength="35.1" lengthAdjust="spacingAndGlyphs" fill="#111"  stroke="#111" stroke-width="0.15">p=0.03††</text>
<text x="74.7" y="351.8" font-size="9.6" text-anchor="start" textLength="55.2" lengthAdjust="spacingAndGlyphs" fill="#111"  stroke="#111" stroke-width="0.15">Other patients</text>
<text x="123.7" y="388.5" font-size="9.6" text-anchor="start" textLength="43.1" lengthAdjust="spacingAndGlyphs" fill="#111"  stroke="#111" stroke-width="0.15">48 patients</text>
<text x="108.0" y="424.4" font-size="9.6" text-anchor="start" textLength="43.2" lengthAdjust="spacingAndGlyphs" fill="#111"  stroke="#111" stroke-width="0.15">12 patients</text>
<text x="22.8" y="424.7" font-size="7.0" text-anchor="start" textLength="73.5" lengthAdjust="spacingAndGlyphs" fill="#111"  stroke="#111" stroke-width="0.15">LC50 DNR ≥ 0.85μM and</text>
<text x="22.8" y="431.2" font-size="7.0" text-anchor="start" textLength="69.2" lengthAdjust="spacingAndGlyphs" fill="#111"  stroke="#111" stroke-width="0.15">LC50 etoposide ≥ 60μM</text>
<text x="20.5" y="446.7" font-size="17.5" text-anchor="start" font-weight="bold" fill="#111" >c</text>
<text x="104.3" y="480.5" font-size="12.8" text-anchor="start" font-weight="bold" textLength="42.8" lengthAdjust="spacingAndGlyphs" fill="#111" >Months</text>
<text x="382.3" y="325.4" font-size="8.6" text-anchor="start" textLength="35.6" lengthAdjust="spacingAndGlyphs" fill="#111"  stroke="#111" stroke-width="0.15">p=0.01††</text>
<text x="482.2" y="322.8" font-size="8.6" text-anchor="start" textLength="30.5" lengthAdjust="spacingAndGlyphs" fill="#111"  stroke="#111" stroke-width="0.15">p=0.02†</text>
<text x="401.2" y="373.0" font-size="10" text-anchor="start" textLength="17.6" lengthAdjust="spacingAndGlyphs" fill="#111"  stroke="#111" stroke-width="0.15">&lt; 1.4</text>
<text x="392.0" y="405.1" font-size="10" text-anchor="start" textLength="18.2" lengthAdjust="spacingAndGlyphs" fill="#111"  stroke="#111" stroke-width="0.15">≥ <tspan font-weight='bold'>1.4</tspan></text>
<text x="470.4" y="372.4" font-size="9.6" text-anchor="start" textLength="43.1" lengthAdjust="spacingAndGlyphs" fill="#111"  stroke="#111" stroke-width="0.15">23 patients</text>
<text x="469.2" y="417.8" font-size="9.6" text-anchor="start" textLength="42.8" lengthAdjust="spacingAndGlyphs" fill="#111"  stroke="#111" stroke-width="0.15">17 patients</text>
<text x="313.0" y="448.0" font-size="17.5" text-anchor="start" font-weight="bold" fill="#111" >d</text>
<text x="395.0" y="482.4" font-size="12.8" text-anchor="start" font-weight="bold" textLength="42.0" lengthAdjust="spacingAndGlyphs" fill="#111" >Months</text>
</svg>
</body></html>
